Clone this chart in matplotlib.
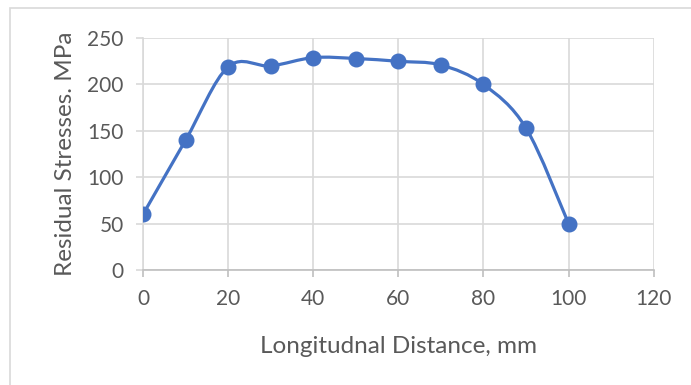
import matplotlib
matplotlib.use('Agg')
import matplotlib.pyplot as plt
from matplotlib.path import Path
from matplotlib.patches import PathPatch, Rectangle

# measured residual stress along the weld
distance = [0, 10, 20, 30, 40, 50, 60, 70, 80, 90, 100]
stress = [60, 140, 219, 220, 229, 228, 225, 221, 200, 153, 50]

x_ticks = [0, 20, 40, 60, 80, 100, 120]
y_ticks = [0, 50, 100, 150, 200, 250]

blue = '#4472C4'
grid = '#d9d9d9'
text_col = '#595959'

plt.rcParams['font.family'] = ['Lato', 'DejaVu Sans']

fig = plt.figure(figsize=(6.91, 3.85), dpi=100)
ax = fig.add_axes([0.207, 0.2987, 0.739, 0.6023])

# chart-area border
fig.patches.append(Rectangle((10 / 691, -0.1), 1.2, 1 - 8 / 385 + 0.1,
                             transform=fig.transFigure, fill=False,
                             edgecolor='#d9d9d9', linewidth=1.2))


# smooth curve through the points (cubic bezier, excel-like smoothing)
def smooth_path(xs, ys, t=1 / 6):
    verts = [(xs[0], ys[0])]
    codes = [Path.MOVETO]
    n = len(xs)
    for i in range(n - 1):
        x0, y0 = (xs[i - 1], ys[i - 1]) if i > 0 else (xs[i], ys[i])
        x1, y1 = xs[i], ys[i]
        x2, y2 = xs[i + 1], ys[i + 1]
        x3, y3 = (xs[i + 2], ys[i + 2]) if i + 2 < n else (x2, y2)
        c1 = (x1 + (x2 - x0) * t, y1 + (y2 - y0) * t)
        c2 = (x2 - (x3 - x1) * t, y2 - (y3 - y1) * t)
        verts += [c1, c2, (x2, y2)]
        codes += [Path.CURVE4] * 3
    return Path(verts, codes)


ax.add_patch(PathPatch(smooth_path(distance, stress), fill=False,
                       edgecolor=blue, linewidth=2.3, capstyle='round',
                       joinstyle='round', zorder=3))
ax.plot(distance, stress, linestyle='none', marker='o', markersize=10.5,
        color=blue, zorder=4)

ax.set_xlim(0, 120)
ax.set_ylim(0, 250)
ax.set_xticks(x_ticks)
ax.set_yticks(y_ticks)
ax.grid(True, color=grid, linewidth=1.2)
ax.set_axisbelow(True)

for s in ['top', 'right']:
    ax.spines[s].set_visible(False)
ax.spines['left'].set_color(grid)
ax.spines['bottom'].set_color('#bfbfbf')
ax.spines['left'].set_linewidth(1.2)
ax.spines['bottom'].set_linewidth(1.2)
ax.tick_params(axis='both', colors=text_col, labelsize=15, length=5,
               width=1.2)
ax.tick_params(axis='x', color='#bfbfbf', pad=9)
ax.tick_params(axis='y', color=grid, pad=9)

ax.set_xlabel('Longitudnal Distance, mm', fontsize=17.5, color=text_col,
              labelpad=19)
ax.set_ylabel('Residual Stresses. MPa', fontsize=17.5, color=text_col,
              labelpad=8)

fig.savefig('out.png', dpi=100)
